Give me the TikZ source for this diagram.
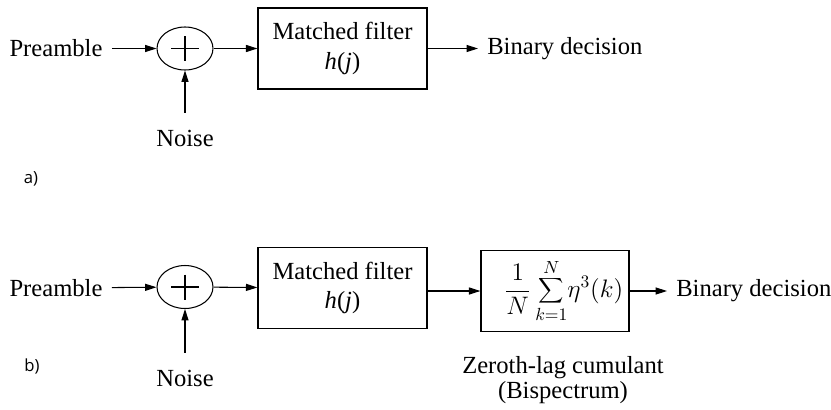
\documentclass[tikz,border=0pt]{standalone}
\usepackage{fontspec}
\setmainfont{Liberation Serif}[ItalicFont=Liberation Serif Italic]
\newfontfamily\tagfont{Open Sans}
\usetikzlibrary{shapes.geometric,arrows.meta,calc}

\begin{document}
\begin{tikzpicture}[x=0.02cm,y=-0.02cm,
        font=\fontsize{14}{17}\selectfont,
        >={Triangle[length=6.5pt,width=4pt]},
        line width=0.6pt,
        block/.style={draw,line width=0.7pt,minimum width=3.38cm,minimum height=1.62cm,align=center,inner sep=0pt},
        adder/.style={draw,ellipse,minimum width=1.12cm,minimum height=0.86cm,inner sep=0pt},
        lbl/.style={inner xsep=5pt,inner ysep=0pt},
        tag/.style={font=\tagfont\fontsize{9.5}{11}\selectfont}]
        \useasboundingbox (0,0) rectangle (831,409);

        % Case a): adder followed by the matched filter
        \node[lbl] (pre1) at (56,48.5) {Preamble};
        \node[adder] (sum1) at (185,48.5) {};
        \node[lbl] (noise1) at (185,138) {Noise};
        \node[block] (mf1) at (342.5,48.5) {Matched filter\\ \emph{h}(\emph{j})};
        \node[lbl,anchor=west] (bin1) at (478,48.5) {Binary decision};
        \node[tag] (taga) at (31,179) {a)};

        % Case b): cumulant block added after the filter
        \node[lbl] (pre2) at (56,288) {Preamble};
        \node[adder] (sum2) at (185,287) {};
        \node[lbl] (noise2) at (185,378) {Noise};
        \node[block] (mf2) at (342.5,288) {Matched filter\\ \emph{h}(\emph{j})};
        \node[block,minimum width=2.96cm] (cum) at (555,291)
            {\hspace{10pt}$\displaystyle\frac{1}{N}\sum_{k=1}^{N}\!\eta^{3}\!\left(k\right)$};
        \node[lbl,align=center,font=\fontsize{14}{14.5}\selectfont] (cumlbl) at (563,380)
            {Zeroth-lag cumulant\\(Bispectrum)};
        \node[lbl,anchor=west] (bin2) at (667,291) {Binary decision};
        \node[tag] (tagb) at (32,366) {b)};

        % Plus signs inside the adders
        \foreach \s in {sum1,sum2} {
            \draw ($(\s)+(-14,0)$) -- ($(\s)+(14,0)$);
            \draw ($(\s)+(0,-12.5)$) -- ($(\s)+(0,12.5)$);
        }

        % Signal flow
        \draw[->] (pre1) -- (sum1);
        \draw[->,shorten <=9.5pt] (noise1) -- (sum1);
        \draw[->] (sum1) -- (mf1);
        \draw[->] (mf1) -- (bin1);

        \draw[->] (pre2) -- (sum2);
        \draw[->,shorten <=9.5pt] (noise2) -- (sum2);
        \draw[->] (sum2) -- (mf2);
        \draw[->] (mf2.east |- cum.west) -- (cum.west);
        \draw[->] (cum) -- (bin2);
    \end{tikzpicture}
\end{document}
